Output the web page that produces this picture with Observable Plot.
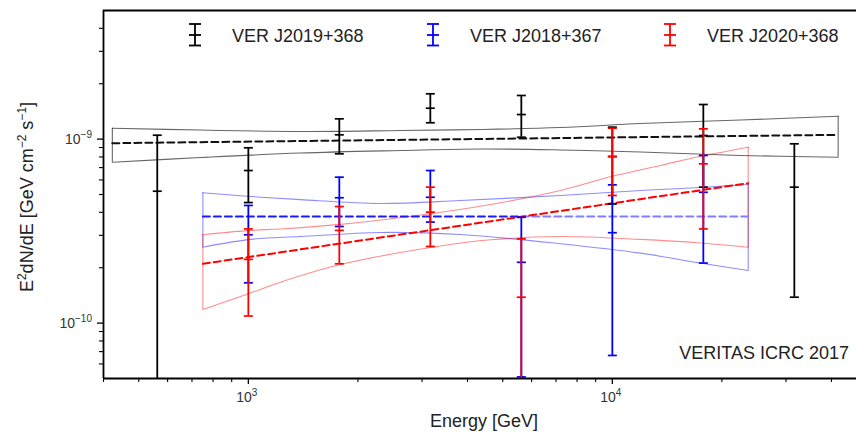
<!DOCTYPE html>
<html><head><meta charset="utf-8">
<script src="https://cdn.jsdelivr.net/npm/d3@7"></script>
<script src="https://cdn.jsdelivr.net/npm/@observablehq/plot@0.6"></script>
<style>body{margin:0;background:#fff;overflow:hidden}</style>
</head><body><div id="chart"></div><script>
// ---- data (energies in GeV, E^2 dN/dE in GeV cm^-2 s^-1) ----
const binsBlack = [562, 1000, 1778, 3162, 5623, 10000, 17783, 31623];
const blackY  = [5.21e-10, 6.75e-10, 1.055e-9, 1.472e-9, 1.360e-9, 8.04e-10, 1.046e-9, 5.48e-10];
const blackLo = [null, 4.52e-10, 8.32e-10, 1.227e-9, 1.024e-9, 4.44e-10, 5.48e-10, 1.383e-10];
const blackHi = [1.050e-9, 8.97e-10, 1.289e-9, 1.763e-9, 1.726e-9, 1.161e-9, 1.542e-9, 9.43e-10];

const binsColor = [1000, 1778, 3162, 5623, 10000, 17783];
const blueY  = [3.02e-10, 4.80e-10, 4.83e-10, 2.14e-10, 3.10e-10, 5.14e-10];
const blueLo = [1.656e-10, 3.35e-10, 3.54e-10, 5.1e-11, 6.67e-11, 2.12e-10];
const blueHi = [4.36e-10, 6.21e-10, 6.75e-10, 3.76e-10, 5.64e-10, 8.15e-10];

const redY  = [2.22e-10, 3.19e-10, 4.01e-10, 1.383e-10, 8.04e-10, 7.34e-10];
const redLo = [1.093e-10, 2.10e-10, 2.61e-10, null, 4.94e-10, 3.25e-10];
const redHi = [3.25e-10, 4.30e-10, 5.48e-10, 2.87e-10, 1.146e-9, 1.137e-9];

// butterfly bands
const blackBandE  = [423, 739, 1391, 2618, 4342, 7204, 11950, 22494, 41730];
const blackBandHi = [1.146e-9, 1.120e-9, 1.100e-9, 1.114e-9, 1.128e-9, 1.156e-9, 1.215e-9, 1.270e-9, 1.332e-9];
const blackBandLo = [7.49e-10, 7.94e-10, 8.40e-10, 8.67e-10, 8.84e-10, 8.73e-10, 8.51e-10, 8.15e-10, 7.97e-10];
const blackFitE = [423, 41730];
const blackFit  = [9.50e-10, 1.055e-9];

const blueBandE  = [750, 1014, 1391, 2307, 3826, 7204, 11950, 17468, 23620];
const blueBandHi = [5.11e-10, 4.88e-10, 4.69e-10, 4.47e-10, 4.64e-10, 4.94e-10, 5.26e-10, 5.46e-10, 5.67e-10];
const blueBandLo = [2.585e-10, 2.85e-10, 2.955e-10, 3.11e-10, 3.03e-10, 2.70e-10, 2.40e-10, 2.12e-10, 1.93e-10];
const blueFitE = [750, 5623, 23620];
const blueFit  = [3.80e-10, 3.80e-10, 3.80e-10];

const redBandHiE = [750, 1014, 1226, 1791, 3166, 4627, 7204, 9946, 13564, 17579, 23620];
const redBandHi  = [3.02e-10, 3.19e-10, 3.25e-10, 3.44e-10, 3.93e-10, 4.41e-10, 5.26e-10, 6.26e-10, 7.19e-10, 8.09e-10, 9.04e-10];
const redBandLoE = [750, 1014, 1226, 1791, 3166, 4627, 7204, 11950, 17468, 23620];
const redBandLo  = [1.186e-10, 1.458e-10, 1.669e-10, 2.08e-10, 2.576e-10, 2.836e-10, 2.955e-10, 2.85e-10, 2.725e-10, 2.585e-10];
const redFitE = [750, 23620];
const redFit  = [2.10e-10, 5.76e-10];

const xMajor = [1000, 10000];
const xMajorExp = ["3", "4"];
const xMinor = [400, 500, 600, 700, 800, 900, 2000, 3000, 4000, 5000, 6000, 7000, 8000, 9000, 20000, 30000, 40000];
const yMajor = [1e-10, 1e-9];
const yMajorExp = ["−10", "−9"];
const yMinor = [6e-11, 7e-11, 8e-11, 9e-11, 2e-10, 3e-10, 4e-10, 5e-10, 6e-10, 7e-10, 8e-10, 9e-10, 2e-9, 3e-9, 4e-9];

const series = [
  {name: "VER J2019+368", color: "#000000", E: binsBlack, y: blackY, lo: blackLo, hi: blackHi},
  {name: "VER J2018+367", color: "#0000ff", E: binsColor, y: blueY, lo: blueLo, hi: blueHi},
  {name: "VER J2020+368", color: "#ff0000", E: binsColor, y: redY, lo: redLo, hi: redHi}
];

// ---- helpers ----
const X_DOMAIN = [400, 46860];
const Y_DOMAIN = [5e-11, 5e-9];
const BELOW = 1e-11; // lower bound below the axis
const cap = {draw(ctx, size) { const r = Math.sqrt(size / Math.PI); ctx.moveTo(-r, 0); ctx.lineTo(r, 0); }};
const pts = (E, v) => E.map((e, i) => ({E: e, v: v[i]}));

function band(Ehi, hi, Elo, lo, color) {
  const n = Ehi.length - 1, m = Elo.length - 1;
  const edges = [{E: Ehi[0], a: lo[0], b: hi[0]}, {E: Ehi[n], a: lo[m], b: hi[n]}];
  return [
    Plot.line(pts(Ehi, hi), {x: "E", y: "v", stroke: color, strokeWidth: 1.1, curve: "catmull-rom"}),
    Plot.line(pts(Elo, lo), {x: "E", y: "v", stroke: color, strokeWidth: 1.1, curve: "catmull-rom"}),
    Plot.ruleX(edges, {x: "E", y1: "a", y2: "b", stroke: color, strokeWidth: 1.1})
  ];
}
function errorbars(s) {
  const rows = s.E.map((e, i) => ({E: e, y: s.y[i], lo: s.lo[i], hi: s.hi[i]}));
  const o = {x: "E", symbol: cap, r: 4.5, stroke: s.color, strokeWidth: 1.7};
  return [
    Plot.ruleX(rows, {x: "E", y1: d => d.lo ?? BELOW, y2: "hi", stroke: s.color, strokeWidth: 1.8, clip: true}),
    Plot.dot(rows, {...o, y: "hi"}),
    Plot.dot(rows.filter(d => d.lo != null), {...o, y: "lo"}),
    Plot.dot(rows, {...o, y: "y"})
  ];
}

const plot = Plot.plot({
  width: 856, height: 434,
  marginLeft: 103, marginRight: 0, marginTop: 10, marginBottom: 56,
  style: {fontFamily: "'Liberation Sans', Arial, sans-serif", fontSize: "14px", color: "#333", background: "#fff", overflow: "visible"},
  x: {type: "log", domain: X_DOMAIN},
  y: {type: "log", domain: Y_DOMAIN},
  marks: [
    Plot.axisX({ticks: xMajor, tickSize: 6, strokeWidth: 1.3, stroke: "#000", tickFormat: () => "", label: null}),
    Plot.axisX({ticks: xMinor, tickSize: 4, strokeWidth: 1.1, stroke: "#000", tickFormat: () => "", label: null}),
    Plot.axisY({ticks: yMajor, tickSize: 6, strokeWidth: 1.3, stroke: "#000", tickFormat: () => "", label: null}),
    Plot.axisY({ticks: yMinor, tickSize: 4, strokeWidth: 1.1, stroke: "#000", tickFormat: () => "", label: null}),

    ...band(blackBandE, blackBandHi, blackBandE, blackBandLo, "rgba(0,0,0,0.6)"),
    ...band(blueBandE, blueBandHi, blueBandE, blueBandLo, "rgba(0,0,255,0.45)"),
    ...band(redBandHiE, redBandHi, redBandLoE, redBandLo, "rgba(255,0,0,0.45)"),

    Plot.line(pts(blackFitE, blackFit), {x: "E", y: "v", stroke: "#111", strokeWidth: 2, strokeDasharray: "7,4"}),
    Plot.line(pts(blueFitE, blueFit).slice(0, 2), {x: "E", y: "v", stroke: "#1a1aff", strokeWidth: 2, strokeDasharray: "7,4"}),
    Plot.line(pts(blueFitE, blueFit).slice(1), {x: "E", y: "v", stroke: "#7f7fff", strokeWidth: 2, strokeDasharray: "7,4"}),
    Plot.line(pts(redFitE, redFit), {x: "E", y: "v", stroke: "#ff0000", strokeWidth: 2, strokeDasharray: "7,4"}),

    ...series.flatMap(errorbars),

    Plot.ruleX([X_DOMAIN[0]], {stroke: "#000", strokeWidth: 1.8}),
    Plot.ruleY([Y_DOMAIN[0]], {stroke: "#000", strokeWidth: 1.8}),
    Plot.ruleY([Y_DOMAIN[1]], {stroke: "#000", strokeWidth: 1.8})
  ]
});
document.getElementById("chart").appendChild(plot);

// ---- tick labels (positions from the plot's own scales), legend, titles ----
const svg = d3.select(plot);
const font = "'Liberation Sans', Arial, sans-serif";
const sx = plot.scale("x"), sy = plot.scale("y");
const txt = (x, y, anchor, size) => svg.append("text").attr("x", x).attr("y", y).attr("text-anchor", anchor)
  .attr("font-family", font).attr("font-size", size).attr("fill", "#333");

xMajor.forEach((v, i) => {
  const t = txt(sx.apply(v) - 1, 402, "middle", 14);
  t.append("tspan").text("10");
  t.append("tspan").attr("dy", -6).attr("font-size", 10).text(xMajorExp[i]);
});
yMajor.forEach((v, i) => {
  const t = txt(92, sy.apply(v) + 5, "end", 14);
  t.append("tspan").text("10");
  t.append("tspan").attr("dy", -6).attr("font-size", 10).text(yMajorExp[i]);
});

const legendX = [195, 433, 670];
series.forEach((s, i) => {
  const g = svg.append("g").attr("stroke", s.color).attr("stroke-width", 1.8);
  const x = legendX[i];
  g.append("line").attr("x1", x).attr("x2", x).attr("y1", 24).attr("y2", 45.5);
  [24, 35, 45.5].forEach(y => g.append("line").attr("x1", x - 6).attr("x2", x + 6).attr("y1", y).attr("y2", y));
  txt(x + 37, 41.5, "start", 18).attr("fill", "#222").text(s.name);
});
txt(849, 359, "end", 18).attr("fill", "#222").text("VERITAS ICRC 2017");
txt(484, 427, "middle", 18).attr("fill", "#222").text("Energy [GeV]");
const yl = svg.append("text").attr("transform", "translate(33,197) rotate(-90)").attr("text-anchor", "middle")
  .attr("font-family", font).attr("font-size", 18).attr("fill", "#222");
yl.append("tspan").text("E");
yl.append("tspan").attr("dy", -7).attr("font-size", 12).text("2");
yl.append("tspan").attr("dy", 7).text("dN/dE [GeV cm");
yl.append("tspan").attr("dy", -7).attr("font-size", 12).text("−2");
yl.append("tspan").attr("dy", 7).text(" s");
yl.append("tspan").attr("dy", -7).attr("font-size", 12).text("−1");
yl.append("tspan").attr("dy", 7).text("]");
</script></body></html>
